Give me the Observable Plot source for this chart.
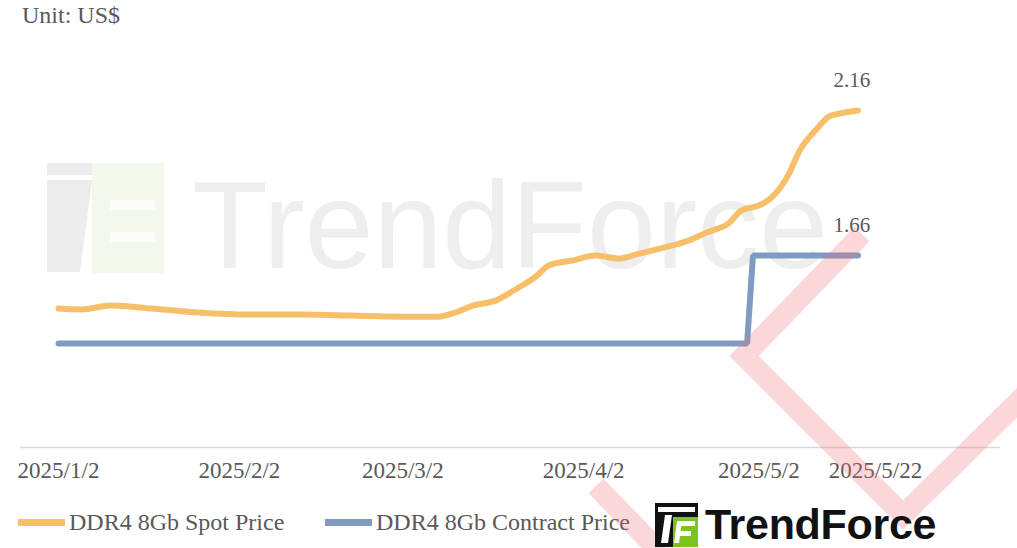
<!DOCTYPE html>
<html>
<head>
<meta charset="utf-8">
<script src="https://cdn.jsdelivr.net/npm/d3@7"></script>
<script src="https://cdn.jsdelivr.net/npm/@observablehq/plot@0.6"></script>
<style>
  html, body { margin: 0; padding: 0; background: #fff; }
  body { width: 1017px; height: 548px; overflow: hidden; position: relative; font-family: "Liberation Serif", "DejaVu Serif", serif; }
  #unit { position: absolute; left: 22px; top: 2px; font-size: 24px; color: #595959; z-index: 2; }
  #wm { position: absolute; left: 0; top: 0; width: 1017px; height: 548px; z-index: 0; }
  #chart { position: absolute; left: 0; top: 40px; z-index: 1; }
  #legend { position: absolute; left: 0; top: 506px; width: 1017px; height: 32px; font-size: 24px; color: #595959; z-index: 2; }
  #legend .item { position: absolute; top: 0; display: flex; align-items: center; height: 32px; }
  #legend .sw { width: 47px; height: 7px; margin-right: 4px; }
  #overlay { position: absolute; left: 0; top: 0; z-index: 3; pointer-events: none; }
  #logo { position: absolute; left: 655px; top: 500px; display: flex; align-items: center; z-index: 4; }
  #logo .name { font-family: "Liberation Sans", Arial, sans-serif; font-weight: bold; font-size: 43px; color: #111; margin-left: 7px; letter-spacing: -0.3px; }
</style>
</head>
<body>
<div id="unit">Unit: US$</div>
<svg id="wm" width="1017" height="548">
  <g opacity="0.45">
    <path d="M47 180 L92 180 L80 272 L47 272 Z" fill="#d6d6d6"/>
    <rect x="47" y="163" width="45" height="12" fill="#d6d6d6"/>
    <rect x="92" y="163" width="72" height="110" fill="#e6f1d6"/>
    <rect x="110" y="200" width="45" height="10" fill="#fafcf6"/>
    <rect x="110" y="232" width="45" height="10" fill="#fafcf6"/>
  </g>
  <text x="192" y="268" font-family="Liberation Sans, Arial, sans-serif" font-size="124" fill="#eeeeee">TrendForce</text>
</svg>
<div id="chart"></div>
<div id="legend">
  <div class="item" style="left:18px"><span class="sw" style="background:#f8bf6a"></span><span id="lg0"></span></div>
  <div class="item" style="left:325px"><span class="sw" style="background:#7f9bc2"></span><span id="lg1"></span></div>
</div>
<svg id="overlay" width="1017" height="548">
  <g fill="none" stroke="#f26b78" stroke-opacity="0.27" stroke-width="21" stroke-linejoin="miter" stroke-linecap="butt">
    <polyline points="862,234 744,356 903,515 1030,390"/>
    <polyline points="596,486 660,552"/>
  </g>
</svg>
<div id="logo">
  <svg width="43" height="44" viewBox="0 0 43 44">
    <rect x="0" y="0" width="43" height="44" fill="#111"/>
    <rect x="18" y="14" width="25" height="30" fill="#7cc31f"/>
    <rect x="3" y="4" width="37" height="5" fill="#fff"/>
    <path d="M10 12 L17 12 L13 40 L6 40 Z" fill="#fff"/>
    <rect x="22" y="18" width="18" height="5" fill="#fff"/>
    <rect x="22" y="28" width="14" height="5" fill="#fff"/>
    <path d="M22 18 L27 18 L24 40 L19 40 Z" fill="#fff"/>
  </svg>
  <span class="name">TrendForce</span>
</div>
<script>
// ---- data ----
const seriesNames = ["DDR4 8Gb Spot Price", "DDR4 8Gb Contract Price"];

const spotDates = [
  "2025-01-02","2025-01-06","2025-01-11","2025-01-18","2025-01-26","2025-02-04","2025-02-13","2025-02-21",
  "2025-03-02","2025-03-08","2025-03-11","2025-03-14","2025-03-18","2025-03-21","2025-03-25","2025-03-27",
  "2025-03-31","2025-04-04","2025-04-08","2025-04-11","2025-04-15","2025-04-20","2025-04-23","2025-04-27",
  "2025-04-29","2025-05-02","2025-05-04","2025-05-07","2025-05-09","2025-05-12","2025-05-14","2025-05-16",
  "2025-05-19"
];
const spotPrice = [
  1.478, 1.475, 1.488, 1.478, 1.464, 1.457, 1.457, 1.454,
  1.450, 1.450, 1.464, 1.488, 1.506, 1.540, 1.591, 1.626,
  1.643, 1.660, 1.650, 1.664, 1.684, 1.712, 1.739, 1.774,
  1.815, 1.832, 1.856, 1.935, 2.021, 2.097, 2.138, 2.149,
  2.159
];

const contractDates = ["2025-01-02","2025-02-01","2025-03-01","2025-04-01","2025-04-30","2025-05-01","2025-05-19"];
const contractPrice = [1.358, 1.358, 1.358, 1.358, 1.358, 1.660, 1.660];

const tickDates  = ["2025-01-02","2025-02-02","2025-03-02","2025-04-02","2025-05-02","2025-05-22"];
const tickLabels = ["2025/1/2","2025/2/2","2025/3/2","2025/4/2","2025/5/2","2025/5/22"];

// ---- build ----
const parse = s => new Date(s + "T00:00:00Z");
const spot = spotDates.map((d, i) => ({date: parse(d), value: spotPrice[i]}));
const contract = contractDates.map((d, i) => ({date: parse(d), value: contractPrice[i]}));
const ticks = tickDates.map(parse);
const fmt = d => tickLabels[ticks.findIndex(t => +t === +d)];

document.getElementById("lg0").textContent = seriesNames[0];
document.getElementById("lg1").textContent = seriesNames[1];

const plot = Plot.plot({
  width: 1017,
  height: 460,
  marginLeft: 58,
  marginRight: 142,
  marginTop: 29,
  marginBottom: 53,
  style: {background: "transparent", fontFamily: "Liberation Serif, serif", color: "#595959"},
  x: {type: "utc", domain: [parse(tickDates[0]), parse(tickDates[tickDates.length - 1])]},
  y: {domain: [1.0, 2.3], axis: null},
  marks: [
    Plot.ruleY([1.0], {stroke: "#d9d9d9", strokeWidth: 1.5, insetLeft: -38, insetRight: -125}),
    Plot.axisX({ticks, tickFormat: fmt, tickSize: 0, tickPadding: 14, fontSize: 23, label: null}),
    Plot.lineY(contract, {x: "date", y: "value", stroke: "#7f9bc2", strokeWidth: 6, strokeLinejoin: "miter"}),
    Plot.lineY(spot, {x: "date", y: "value", stroke: "#f8bf6a", strokeWidth: 6, curve: "monotone-x"}),
    Plot.text([spot[spot.length - 1], contract[contract.length - 1]], {
      x: "date", y: "value", text: d => d.value.toFixed(2),
      dx: -6, dy: -30, fontSize: 21, fill: "#595959"
    })
  ]
});
document.getElementById("chart").appendChild(plot);
</script>
</body>
</html>
